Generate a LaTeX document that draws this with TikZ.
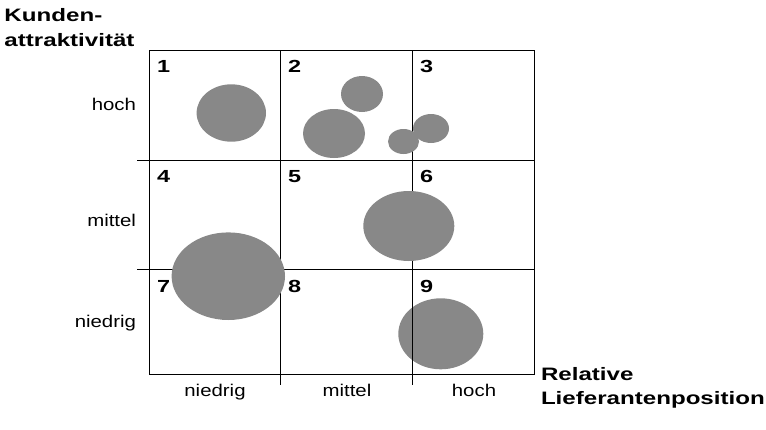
\documentclass[tikz,border=0pt]{standalone}
\usepackage{fontspec}
\setmainfont{Liberation Sans}
\newfontfamily\lblfont{Liberation Sans}[FakeStretch=1.2]
\newfontfamily\ttlfont{Liberation Sans}[FakeStretch=1.34]
\usetikzlibrary{positioning}
\definecolor{bubblegray}{HTML}{888888}

\begin{document}
\begin{tikzpicture}[x=1pt, y=-1pt, line width=0.9pt,
  every node/.style={inner sep=0pt, outer sep=0pt},
  axislbl/.style={font=\lblfont\fontsize{17}{20}\selectfont},
  axistitle/.style={anchor=base west, font=\ttlfont\bfseries\fontsize{18}{20}\selectfont},
  cellnum/.style={anchor=base west, font=\ttlfont\bfseries\fontsize{17.5}{20}\selectfont},
  bubble/.style={fill=bubblegray}]
  \useasboundingbox (0,0) rectangle (766,429);

  % bubble in cell 9 lies below the grid lines
  \fill[bubble] (440.8,333.8) ellipse [x radius=42.5pt, y radius=35.5pt];

  % grid
  \draw (149,50) rectangle (534,374);
  \draw (137,160) -- (535,160);
  \draw (137,269) -- (535,269);
  \draw (280,50) -- (280,385);
  \draw (412,50) -- (412,385);

  % bubbles
  \fill[bubble] (231.3,113) ellipse [x radius=34.7pt, y radius=28.7pt];
  \fill[bubble] (362,94) ellipse [x radius=21pt, y radius=18pt];
  \fill[bubble] (334,133.5) ellipse [x radius=31pt, y radius=24.5pt];
  \fill[bubble] (431,128.5) ellipse [x radius=18pt, y radius=14.5pt];
  \fill[bubble] (403.5,141.5) ellipse [x radius=15.5pt, y radius=12.5pt];
  \fill[bubble] (408.8,226) ellipse [x radius=45.5pt, y radius=35pt];
  \fill[bubble] (228.3,276.2) ellipse [x radius=56.7pt, y radius=43.8pt];

  % cell numbers
  \node[cellnum] (n1) at (157,72.5) {1};
  \node[cellnum] (n2) at (288,72.5) {2};
  \node[cellnum] (n3) at (420,72.5) {3};
  \node[cellnum] (n4) at (157,182.5) {4};
  \node[cellnum] (n5) at (288,182.5) {5};
  \node[cellnum] (n6) at (420,182.5) {6};
  \node[cellnum] (n7) at (157,292) {7};
  \node[cellnum] (n8) at (288,292) {8};
  \node[cellnum] (n9) at (420,292) {9};

  % axis labels
  \node[axislbl, anchor=base east] (yhoch) at (136,110) {hoch};
  \node[axislbl, anchor=base east] (ymittel) at (136,226) {mittel};
  \node[axislbl, anchor=base east] (yniedrig) at (136,327.5) {niedrig};
  \node[axislbl, anchor=base] (xniedrig) at (215,396.5) {niedrig};
  \node[axislbl, anchor=base] (xmittel) at (347,396.5) {mittel};
  \node[axislbl, anchor=base] (xhoch) at (474,396.5) {hoch};

  % axis titles
  \node[axistitle] (ytitle) at (4.5,21) {Kunden-};
  \node[axistitle] (ytitle2) at (4.5,46) {attraktivität};
  \node[axistitle] (xtitle) at (541,380.5) {Relative};
  \node[axistitle] (xtitle2) at (541,404.5) {Lieferantenposition};
\end{tikzpicture}
\end{document}
